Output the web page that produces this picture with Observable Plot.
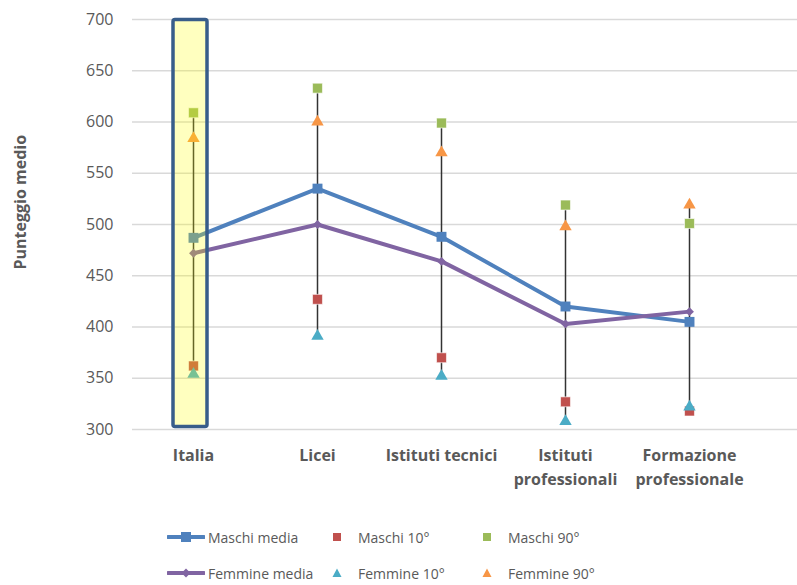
<!DOCTYPE html>
<html>
<head>
<meta charset="utf-8">
<script src="https://cdn.jsdelivr.net/npm/d3@7"></script>
<script src="https://cdn.jsdelivr.net/npm/@observablehq/plot@0.6"></script>
<style>
  html, body { margin: 0; padding: 0; background: #fff; }
  #chart { width: 797px; }
  .legend { font-family: "Open Sans", sans-serif; font-size: 14px; color: #595959; }
  .lrow { display: flex; align-items: center; height: 36px; padding-left: 167px; }
  .lcell { display: flex; align-items: center; }
  .lcell svg { display: block; }
  .c1 { width: 160px; }
  .c2 { width: 150px; }
  .c3 { width: 150px; }
</style>
</head>
<body>
<div id="chart"></div>
<script>
// ---- data ----
const categories = ["Italia", "Licei", "Istituti tecnici", "Istituti professionali", "Formazione professionale"];
const tickLabels = ["Italia", "Licei", "Istituti tecnici", "Istituti\nprofessionali", "Formazione\nprofessionale"];
const maschiMedia = [487, 535, 488, 420, 405];
const femmineMedia = [472, 500, 464, 403, 415];
const maschi10 = [362, 427, 370, 327, 318];
const maschi90 = [609, 633, 599, 519, 501];
const femmine10 = [354, 391, 352, 308, 322];
const femmine90 = [584, 600, 570, 498, 519];
const yTicks = [300, 350, 400, 450, 500, 550, 600, 650, 700];
const yTitle = "Punteggio medio";
const highlighted = "Italia";
const seriesNames = ["Maschi media", "Maschi 10°", "Maschi 90°", "Femmine media", "Femmine 10°", "Femmine 90°"];

const colors = {
  "Maschi media": "#4F81BD",
  "Femmine media": "#8064A2",
  "Maschi 10°": "#C0504D",
  "Maschi 90°": "#9BBB59",
  "Femmine 10°": "#4BACC6",
  "Femmine 90°": "#F79646"
};

const rows = categories.map((c, i) => ({
  cat: c,
  mm: maschiMedia[i], fm: femmineMedia[i],
  m10: maschi10[i], m90: maschi90[i], f10: femmine10[i], f90: femmine90[i],
  lo: d3.min([maschi10[i], maschi90[i], femmine10[i], femmine90[i]]),
  hi: d3.max([maschi10[i], maschi90[i], femmine10[i], femmine90[i]])
}));
const labelOf = new Map(categories.map((c, i) => [c, tickLabels[i]]));

const chart = Plot.plot({
  width: 797,
  height: 519,
  marginLeft: 132,
  marginRight: 0,
  marginTop: 19,
  marginBottom: 90,
  style: { fontFamily: "Open Sans, sans-serif", fontSize: "16px", color: "#595959", background: "white" },
  x: { type: "band", domain: categories, range: [131, 751], padding: 0 },
  y: { domain: [yTicks[0], yTicks[yTicks.length - 1]] },
  marks: [
    Plot.gridY(yTicks, { stroke: "#d9d9d9", strokeOpacity: 1, strokeWidth: 1.5 }),
    Plot.axisY(yTicks, { tickSize: 0, tickPadding: 19, fontSize: 16, label: null }),
    Plot.text([yTitle], {
      text: d => d, frameAnchor: "left", rotate: -90, dx: -112, dy: 45,
      fontSize: 16, fontWeight: "bold", fill: "#595959"
    }),
    Plot.axisX({
      tickSize: 0, tickPadding: 14, fontSize: 16, fontWeight: "bold", lineHeight: 1.5,
      tickFormat: d => labelOf.get(d), label: null
    }),
    Plot.line(rows, { x: "cat", y: "mm", stroke: colors["Maschi media"], strokeWidth: 4 }),
    Plot.line(rows, { x: "cat", y: "fm", stroke: colors["Femmine media"], strokeWidth: 4 }),
    Plot.ruleX(rows, { x: "cat", y1: "lo", y2: "hi", stroke: "#333", strokeWidth: 1.5 }),
    Plot.dot(rows, { x: "cat", y: "mm", symbol: "square", r: 5.6, fill: colors["Maschi media"] }),
    Plot.dot(rows, { x: "cat", y: "fm", symbol: "diamond2", r: 4, fill: colors["Femmine media"] }),
    Plot.dot(rows, { x: "cat", y: "m90", symbol: "square", r: 5.6, fill: colors["Maschi 90°"], stroke: "white", strokeWidth: 0.6 }),
    Plot.dot(rows, { x: "cat", y: "m10", symbol: "square", r: 5.6, fill: colors["Maschi 10°"], stroke: "white", strokeWidth: 0.6 }),
    Plot.dot(rows, { x: "cat", y: "f90", symbol: "triangle", r: 4.6, fill: colors["Femmine 90°"] }),
    Plot.dot(rows, { x: "cat", y: "f10", symbol: "triangle", r: 4.6, fill: colors["Femmine 10°"] }),
    Plot.barY([highlighted], {
      x: d => d, y1: yTicks[0], y2: yTicks[yTicks.length - 1],
      fill: "#FFFF00", fillOpacity: 0.25, stroke: "#385D8A", strokeWidth: 3.5,
      insetLeft: 42, insetRight: 48, insetTop: 0.5, insetBottom: 2.5, rx: 2
    })
  ]
});
document.getElementById("chart").appendChild(chart);

// ---- legend ----
function sym(name) {
  const c = colors[name];
  if (name.endsWith("media")) {
    const marker = name.startsWith("Maschi")
      ? `<rect x="14" y="4" width="10" height="10" fill="${c}"/>`
      : `<path d="M19,4.5 L23.5,9 L19,13.5 L14.5,9 Z" fill="${c}"/>`;
    return `<svg width="38" height="18"><line x1="1" x2="37" y1="9" y2="9" stroke="${c}" stroke-width="4" stroke-linecap="round"/>${marker}</svg>`;
  }
  if (name.includes("Maschi")) {
    return `<svg width="20" height="18"><rect x="6" y="5" width="8" height="8" fill="${c}"/></svg>`;
  }
  return `<svg width="20" height="18"><path d="M10,4.5 L14.5,13 L5.5,13 Z" fill="${c}"/></svg>`;
}
const legend = d3.select("body").append("div").attr("class", "legend");
[[0, 1, 2], [3, 4, 5]].forEach(idx => {
  const row = legend.append("div").attr("class", "lrow");
  idx.forEach((k, j) => {
    const name = seriesNames[k];
    const cell = row.append("div").attr("class", "lcell c" + (j + 1));
    cell.html(sym(name) + `<span style="margin-left:${j === 0 ? 3 : 11}px">${name}</span>`);
  });
});
</script>
</body>
</html>
